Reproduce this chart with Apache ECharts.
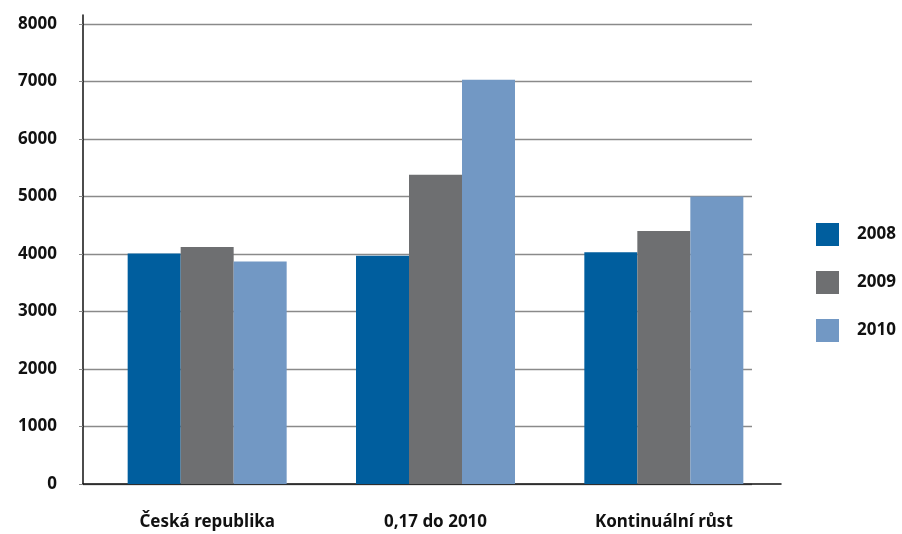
<!DOCTYPE html>
<html>
<head>
<meta charset="utf-8">
<script src="https://cdn.jsdelivr.net/npm/echarts@6/dist/echarts.min.js"></script>
<style>
  html, body { margin: 0; padding: 0; background: #fff; }
  #chart { width: 902px; height: 534px; }
</style>
</head>
<body>
<div id="chart"></div>
<script>
const categories = ['Česká republika', '0,17 do 2010', 'Kontinuální růst'];
const seriesNames = ['2008', '2009', '2010'];
const values2008 = [4010, 3970, 4030];
const values2009 = [4120, 5380, 4400];
const values2010 = [3870, 7030, 5000];
const colors = ['#005e9e', '#6e6f71', '#7298c4'];

const font = 'Noto Sans';
const chart = echarts.init(document.getElementById('chart'));

chart.setOption({
  animation: false,
  color: colors,
  textStyle: { fontFamily: font },
  legend: {
    orient: 'vertical',
    left: 811,
    top: 218,
    itemWidth: 23,
    itemHeight: 23,
    itemGap: 25,
    icon: 'rect',
    data: seriesNames,
    textStyle: { fontFamily: font, fontWeight: 'bold', fontSize: 17, color: '#111', padding: [0, 0, 0, 13] }
  },
  grid: [
    // grid lines + y labels
    { left: 83, right: 150, top: 24, bottom: 50 },
    // bars + category labels
    { left: 93, right: 124, top: 24, bottom: 50 },
    // axis lines (y reaches a bit above the top)
    { left: 83, right: 121, top: 15, bottom: 50 }
  ],
  xAxis: [
    { gridIndex: 0, type: 'category', data: categories, show: false },
    {
      gridIndex: 1,
      type: 'category',
      data: categories,
      axisLine: { show: false },
      axisTick: { show: false },
      axisLabel: { margin: 30, fontFamily: font, fontWeight: 'bold', fontSize: 17, color: '#111' }
    },
    {
      gridIndex: 2,
      type: 'category',
      data: categories,
      axisLine: { show: true, lineStyle: { color: '#111', width: 1.5 } },
      axisTick: { show: false },
      axisLabel: { show: false }
    }
  ],
  yAxis: [
    {
      gridIndex: 0,
      type: 'value',
      min: 0,
      max: 8000,
      interval: 1000,
      axisLine: { show: false },
      axisTick: { show: true, length: 4, lineStyle: { color: '#888' } },
      axisLabel: {
        margin: 26, fontFamily: font, fontWeight: 'bold', fontSize: 17, color: '#111',
        formatter: v => String(v)
      },
      splitLine: { show: true, lineStyle: { color: '#8a8a8a', width: 1.3 } }
    },
    {
      gridIndex: 1,
      type: 'value',
      min: 0,
      max: 8000,
      interval: 1000,
      show: false,
      splitLine: { show: false }
    },
    {
      gridIndex: 2,
      type: 'value',
      min: 0,
      max: 1,
      axisLine: { show: true, lineStyle: { color: '#111', width: 1.5 } },
      axisTick: { show: false },
      axisLabel: { show: false },
      splitLine: { show: false }
    }
  ],
  series: [
    { name: seriesNames[0], type: 'bar', xAxisIndex: 1, yAxisIndex: 1, data: values2008, barWidth: 53, barGap: '0%' },
    { name: seriesNames[1], type: 'bar', xAxisIndex: 1, yAxisIndex: 1, data: values2009, barWidth: 53, barGap: '0%' },
    { name: seriesNames[2], type: 'bar', xAxisIndex: 1, yAxisIndex: 1, data: values2010, barWidth: 53, barGap: '0%' }
  ]
});
</script>
</body>
</html>
